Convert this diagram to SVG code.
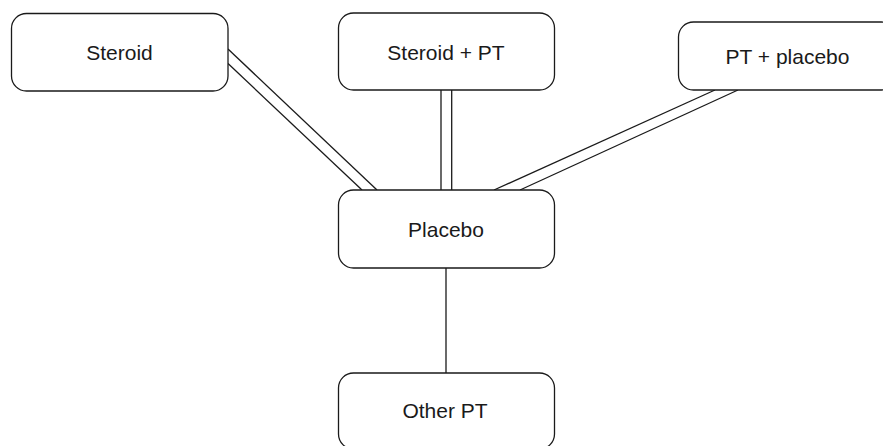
<svg xmlns="http://www.w3.org/2000/svg" width="883" height="446" viewBox="0 0 883 446">
<style>
.box{fill:#fff;stroke:#1a1a1a;stroke-width:1.3}
.lbl{font-family:"Liberation Sans",Arial,sans-serif;font-size:21px;fill:#1a1a1a;text-anchor:middle}
.edge{stroke:#1a1a1a;stroke-width:1.3;fill:none}
</style>
<rect width="883" height="446" fill="#fff"/>
<g id="connectors">
<line class="edge" x1="228" y1="49" x2="377" y2="190"/>
<line class="edge" x1="228" y1="63.5" x2="362" y2="190"/>
<line class="edge" x1="441" y1="90" x2="441" y2="190"/>
<line class="edge" x1="451.7" y1="90" x2="451.7" y2="190"/>
<line class="edge" x1="715" y1="90" x2="494" y2="190"/>
<line class="edge" x1="738" y1="90" x2="520" y2="190"/>
<line class="edge" x1="446" y1="268" x2="446" y2="373"/>
</g>
<g id="steroid">
<rect class="box" x="11.5" y="13.5" width="216.5" height="77.5" rx="15"/>
<text class="lbl" x="119.5" y="59.5">Steroid</text>
</g>
<g id="steroid-pt">
<rect class="box" x="338.5" y="13" width="216" height="77" rx="15"/>
<text class="lbl" x="446" y="59.5">Steroid + PT</text>
</g>
<g id="pt-placebo">
<rect class="box" x="678.5" y="22" width="218" height="68" rx="15"/>
<text class="lbl" x="787.5" y="63.5">PT + placebo</text>
</g>
<g id="placebo">
<rect class="box" x="338.5" y="190" width="216" height="78" rx="15"/>
<text class="lbl" x="446" y="236.5">Placebo</text>
</g>
<g id="other-pt">
<rect class="box" x="338.5" y="373" width="216" height="76" rx="15"/>
<text class="lbl" x="445" y="418">Other PT</text>
</g>
</svg>
